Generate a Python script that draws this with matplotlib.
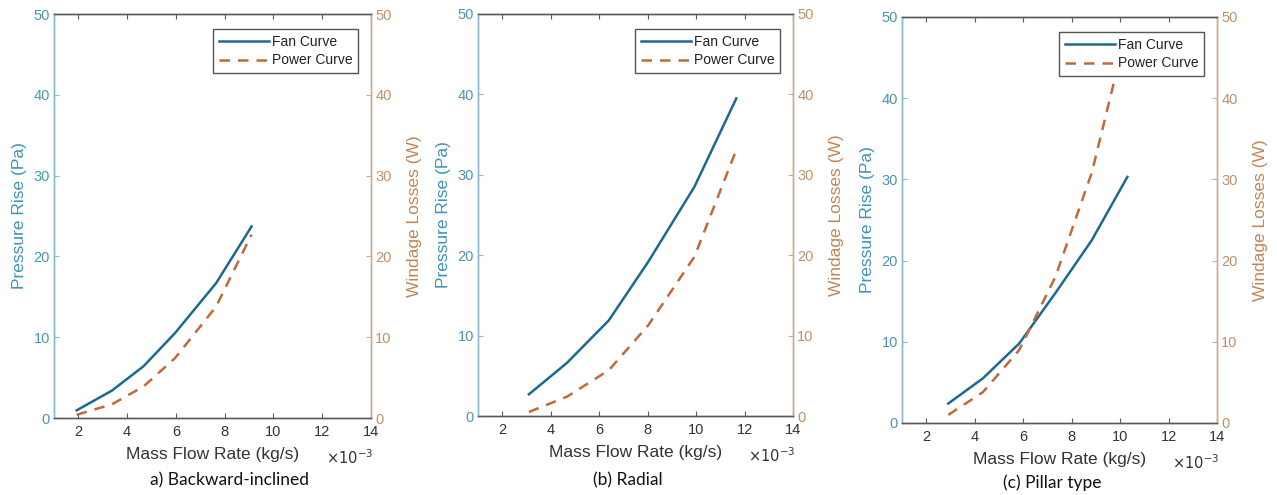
import matplotlib
matplotlib.use("Agg")
import matplotlib.pyplot as plt
from matplotlib.ticker import FuncFormatter

plt.rcParams['font.family'] = ['Liberation Sans', 'DejaVu Sans']

# mass flow rate (kg/s), pressure rise (Pa), windage losses (W)
flow_a = [1.93e-3, 3.38e-3, 4.67e-3, 5.96e-3, 7.65e-3, 9.10e-3]
fan_a = [0.95, 3.4, 6.4, 10.5, 16.7, 23.7]
power_a = [0.4, 1.7, 3.9, 7.4, 13.8, 22.7]

flow_b = [3.10e-3, 4.67e-3, 6.40e-3, 8.03e-3, 9.93e-3, 11.66e-3]
fan_b = [2.7, 6.6, 11.9, 19.2, 28.5, 39.5]
power_b = [0.5, 2.4, 5.7, 11.3, 19.8, 33.1]

flow_c = [2.91e-3, 4.34e-3, 5.84e-3, 7.33e-3, 8.83e-3, 10.30e-3]
fan_c = [2.4, 5.5, 9.8, 16.0, 22.5, 30.3]
flow_c_power = [2.91e-3, 4.34e-3, 5.84e-3, 7.33e-3, 8.83e-3, 9.80e-3]
power_c = [1.0, 3.8, 9.0, 18.0, 30.8, 42.6]

captions = ['a) Backward-inclined', '(b) Radial', '(c) Pillar type']
x_ticks = [2e-3, 4e-3, 6e-3, 8e-3, 10e-3, 12e-3, 14e-3]
y_ticks = [0, 10, 20, 30, 40, 50]

FAN = '#1c6a91'
POWER = '#c06a3a'
LEFT_TXT = '#4f93b3'
LEFT_SPINE = '#8ab8cf'
RIGHT_TXT = '#c0906a'
RIGHT_SPINE = '#cfa98f'
FRAME = '#5a5a5a'

W, H = 1277, 495
# axes boxes in pixels: left, top, right, bottom
boxes = [(54, 14, 371, 418), (478, 14, 793, 416), (902, 17, 1217, 423)]
caption_pos = [(230, 480), (628, 480), (1052, 483)]

fig = plt.figure(figsize=(W / 100, H / 100), dpi=100)

panels = [(flow_a, fan_a, flow_a, power_a),
          (flow_b, fan_b, flow_b, power_b),
          (flow_c, fan_c, flow_c_power, power_c)]

for i, (xf, yf, xp, yp) in enumerate(panels):
    l, t, r, b = boxes[i]
    pw = r - l
    ph = b - t
    ax = fig.add_axes([l / W, 1 - b / H, pw / W, ph / H])
    ax2 = ax.twinx()

    fan_line, = ax.plot(xf, yf, color=FAN, lw=1.8, label='Fan Curve')
    power_line, = ax2.plot(xp, yp, color=POWER, lw=1.8,
                           linestyle=(0, (4.2, 3.2)), label='Power Curve')

    ax.set_xlim(1e-3, 14e-3)
    ax.set_ylim(0, 50)
    ax2.set_ylim(0, 50)
    ax.set_xticks(x_ticks)
    ax.xaxis.set_major_formatter(FuncFormatter(lambda v, p: '%d' % round(v * 1e3)))
    ax.set_yticks(y_ticks)
    ax2.set_yticks(y_ticks)

    ax.tick_params(axis='x', direction='in', length=3.5, width=0.8, colors=FRAME,
                   labelcolor='#333333', labelsize=10.5, top=True, pad=5)
    ax.tick_params(axis='y', direction='in', length=3.5, width=0.8, colors=LEFT_SPINE,
                   labelcolor=LEFT_TXT, labelsize=10.5, pad=3)
    ax2.tick_params(axis='y', direction='in', length=3.5, width=0.8, colors=RIGHT_SPINE,
                    labelcolor=RIGHT_TXT, labelsize=10.5, pad=3)

    for a in (ax, ax2):
        a.spines['top'].set_color(FRAME)
        a.spines['bottom'].set_color(FRAME)
        a.spines['left'].set_color(LEFT_SPINE)
        a.spines['right'].set_color(RIGHT_SPINE)
        for s in a.spines.values():
            s.set_linewidth(1.0)

    ax.set_xlabel('Mass Flow Rate (kg/s)', fontsize=12.5, color='#333333', labelpad=6)
    ax.set_ylabel('Pressure Rise (Pa)', fontsize=12.5, color='#3d94b5', labelpad=5)
    ax2.set_ylabel('Windage Losses (W)', fontsize=12.5, color='#c08656', labelpad=11)

    ax.text(1.0 + 2 / pw, -40 / ph, r'$\times10^{-3}$', transform=ax.transAxes,
            ha='right', va='center', fontsize=10.5, color='#333333')

    leg = ax2.legend(handles=[fan_line, power_line], loc='upper right',
                     bbox_to_anchor=(1 - 13 / pw, 1 - 15 / ph), borderaxespad=0,
                     fontsize=10, handlelength=3.6, handletextpad=0.2,
                     fancybox=False, framealpha=1, edgecolor='#555555',
                     borderpad=0.4, labelspacing=0.35)
    leg.get_frame().set_linewidth(1.0)
    for txt in leg.get_texts():
        txt.set_color('#222222')

    cx, cy = caption_pos[i]
    fig.text(cx / W, 1 - cy / H, captions[i], ha='center', va='center',
             fontsize=12.5, family=['Lato', 'DejaVu Sans'], color='#111111')

fig.savefig('out.png', dpi=100)
